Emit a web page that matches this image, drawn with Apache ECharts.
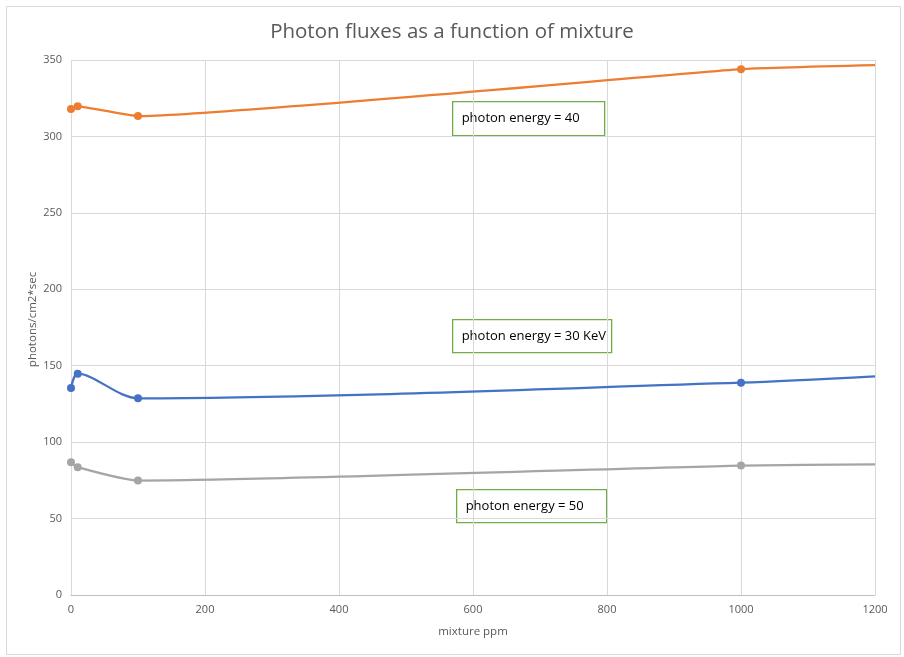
<!DOCTYPE html>
<html>
<head>
<meta charset="utf-8">
<script src="https://cdn.jsdelivr.net/npm/echarts@6/dist/echarts.min.js"></script>
<style>
  html, body { margin: 0; padding: 0; background: #fff; }
  #chart { width: 904px; height: 657px; }
</style>
</head>
<body>
<div id="chart"></div>
<script>
// Mixture concentrations (ppm) and photon flux readings per photon energy
const mixturePpm = [0, 10, 100, 1000, 1200];
const flux30KeV = [135.4, 144.8, 128.7, 138.9, 143.0];
const flux40 = [317.9, 319.7, 313.3, 344.0, 346.6];
const flux50 = [86.9, 83.6, 74.9, 84.7, 85.4];
// The last reading only continues the curve; it carries no marker
const markedCount = 4;

const xTicks = { min: 0, max: 1200, interval: 200 };
const yTicks = { min: 0, max: 350, interval: 50 };

const labels = {
  title: 'Photon fluxes as a function of mixture',
  xName: 'mixture ppm',
  yName: 'photons/cm2*sec',
  note40: 'photon energy = 40',
  note30: 'photon energy = 30 KeV',
  note50: 'photon energy = 50'
};

const FONT = '"Open Sans", sans-serif';
const TEXT = '#595959';

function pairs(values) {
  return mixturePpm.map((x, i) => {
    const item = { value: [x, values[i]] };
    if (i >= markedCount) item.symbol = 'none';
    return item;
  });
}

function series(name, values, color, smooth) {
  return {
    name: name,
    type: 'line',
    data: pairs(values),
    smooth: smooth,
    symbol: 'circle',
    symbolSize: 8,
    lineStyle: { color: color, width: 2.25 },
    itemStyle: { color: color },
    clip: true,
    z: 3
  };
}

function noteBox(text, left, top, width, height) {
  return {
    type: 'group',
    left: left,
    top: top,
    children: [
      {
        type: 'rect',
        shape: { x: 0, y: 0, width: width, height: height },
        style: { fill: '#ffffff', stroke: '#70AD47', lineWidth: 1.3 }
      },
      {
        type: 'text',
        x: 9,
        y: height / 2,
        style: {
          text: text,
          fill: '#000000',
          font: '13px "Open Sans", sans-serif',
          verticalAlign: 'middle'
        }
      }
    ]
  };
}

const chart = echarts.init(document.getElementById('chart'), null, { renderer: 'canvas' });

chart.setOption({
  animation: false,
  backgroundColor: '#ffffff',
  title: {
    text: labels.title,
    left: 'center',
    top: 17,
    textStyle: { fontFamily: FONT, fontSize: 20.5, fontWeight: 'normal', color: TEXT }
  },
  grid: { left: 71, right: 29, top: 60, bottom: 62, containLabel: false },
  xAxis: {
    type: 'value',
    min: xTicks.min,
    max: xTicks.max,
    interval: xTicks.interval,
    name: labels.xName,
    nameLocation: 'middle',
    nameGap: 31,
    nameMoveOverlap: false,
    nameTextStyle: { fontFamily: FONT, fontSize: 11.5, color: TEXT },
    axisLine: { show: true, lineStyle: { color: '#BFBFBF', width: 1 } },
    axisTick: { show: false },
    axisLabel: {
      fontFamily: FONT, fontSize: 11, color: TEXT, margin: 9,
      formatter: v => String(v)
    },
    splitLine: { show: true, lineStyle: { color: '#D9D9D9', width: 1 } }
  },
  yAxis: {
    type: 'value',
    min: yTicks.min,
    max: yTicks.max,
    interval: yTicks.interval,
    name: labels.yName,
    nameLocation: 'middle',
    nameGap: 32,
    nameMoveOverlap: false,
    nameRotate: 90,
    nameTextStyle: { fontFamily: FONT, fontSize: 11.5, color: TEXT, padding: [0, 0, 0, 16] },
    axisLine: { show: false },
    axisTick: { show: false },
    axisLabel: { fontFamily: FONT, fontSize: 11, color: TEXT, margin: 9 },
    splitLine: { show: true, lineStyle: { color: '#D9D9D9', width: 1 } }
  },
  series: [
    series('photon energy = 30 KeV', flux30KeV, '#4472C4', 0.3),
    series('photon energy = 40', flux40, '#ED7D31', 0.12),
    series('photon energy = 50', flux50, '#A5A5A5', 0.2)
  ],
  graphic: [
    {
      type: 'rect',
      left: 4,
      top: 4,
      shape: { width: 894, height: 648 },
      style: { fill: 'none', stroke: '#D9D9D9', lineWidth: 1 },
      silent: true,
      z: -1
    },
    noteBox(labels.note40, 452, 101, 152, 34),
    noteBox(labels.note30, 452, 319, 159, 33),
    noteBox(labels.note50, 456, 489, 150, 33)
  ]
});
</script>
</body>
</html>
